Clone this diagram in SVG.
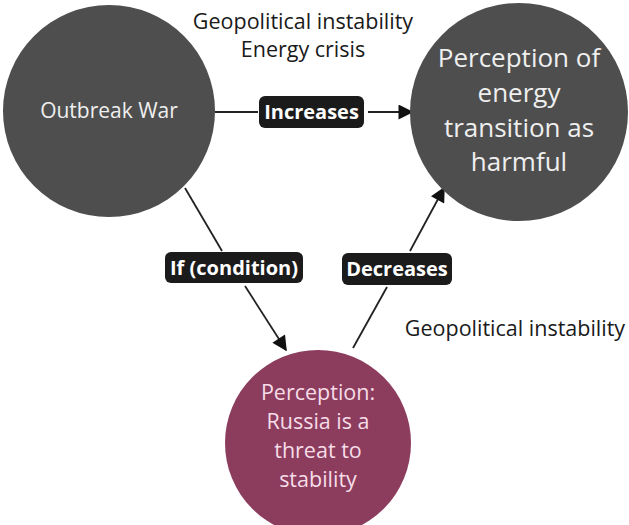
<svg xmlns="http://www.w3.org/2000/svg" width="629" height="525" viewBox="0 0 629 525">
<style>
text{font-family:"Open Sans","Noto Sans","DejaVu Sans",sans-serif;text-anchor:middle}
.gray{fill:#4e4e4e}
.maroon{fill:#8c3c5d}
.ntxt{fill:#efefef}
.mtxt{fill:#f6dde8}
.lbl{fill:#1b1b1b}
.ltxt{fill:#ffffff;font-weight:bold;font-size:20px}
.free{fill:#1a1a1a;font-size:21.5px}
.edge{stroke:#222;stroke-width:1.8;fill:none}
</style>
<defs>
<marker id="arr" viewBox="0 0 10 10" refX="9" refY="5" markerWidth="16" markerHeight="15" markerUnits="userSpaceOnUse" orient="auto">
<path d="M0,0 L10,5 L0,10 z" fill="#111"/>
</marker>
</defs>
<g id="edges">
<line class="edge" x1="215" y1="112" x2="258" y2="112"/>
<line class="edge" x1="368" y1="112" x2="412" y2="112" marker-end="url(#arr)"/>
<line class="edge" x1="185" y1="188" x2="222" y2="251"/>
<line class="edge" x1="245" y1="286" x2="286" y2="350" marker-end="url(#arr)"/>
<line class="edge" x1="353" y1="348" x2="387" y2="287"/>
<line class="edge" x1="410" y1="251" x2="444" y2="188" marker-end="url(#arr)"/>
</g>
<g id="node-war">
<circle class="gray" cx="109" cy="111" r="106"/>
<text class="ntxt" x="109" y="118" font-size="21">Outbreak War</text>
</g>
<g id="node-perception-energy">
<circle class="gray" cx="519" cy="112" r="109"/>
<text class="ntxt" x="519" y="67" font-size="26">Perception of</text>
<text class="ntxt" x="519" y="102" font-size="26">energy</text>
<text class="ntxt" x="519" y="137" font-size="26">transition as</text>
<text class="ntxt" x="519" y="171" font-size="26">harmful</text>
</g>
<g id="node-russia">
<circle class="maroon" cx="318" cy="443" r="93"/>
<text class="mtxt" x="318" y="400" font-size="21.5">Perception:</text>
<text class="mtxt" x="318" y="429" font-size="21.5">Russia is a</text>
<text class="mtxt" x="318" y="458" font-size="21.5">threat to</text>
<text class="mtxt" x="318" y="487" font-size="21.5">stability</text>
</g>
<g id="label-increases">
<rect class="lbl" x="259" y="96" width="105" height="32" rx="6"/>
<text class="ltxt" x="311.5" y="119">Increases</text>
</g>
<g id="label-if">
<rect class="lbl" x="165" y="252" width="138" height="31" rx="6"/>
<text class="ltxt" x="234" y="275">If (condition)</text>
</g>
<g id="label-decreases">
<rect class="lbl" x="342" y="253" width="110" height="32" rx="6"/>
<text class="ltxt" x="397" y="276">Decreases</text>
</g>
<g id="free-text">
<text class="free" x="303" y="29">Geopolitical instability</text>
<text class="free" x="303" y="57">Energy crisis</text>
<text class="free" x="515" y="336">Geopolitical instability</text>
</g>
</svg>
